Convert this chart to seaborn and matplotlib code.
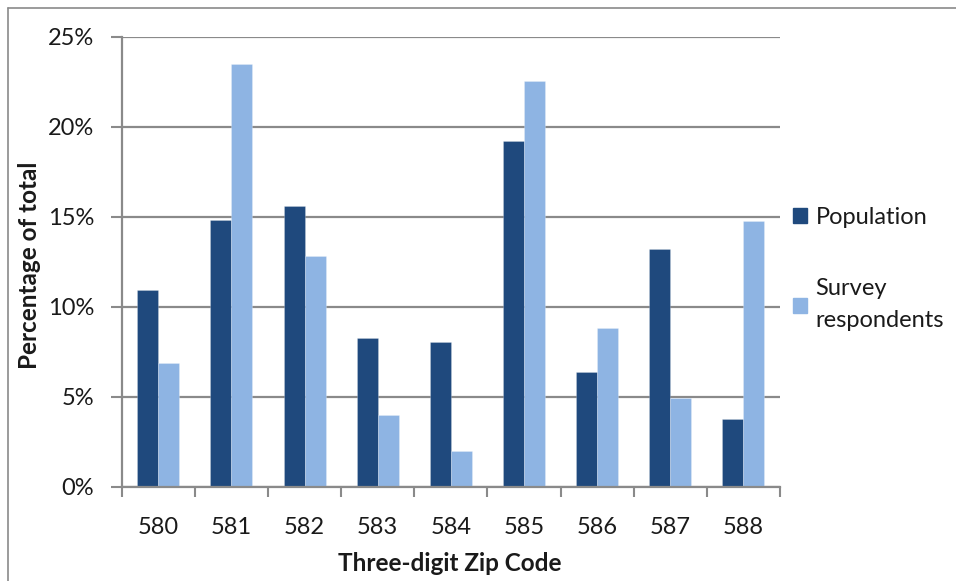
import matplotlib
matplotlib.use("Agg")
import matplotlib.pyplot as plt
import seaborn as sns
import pandas as pd
from matplotlib.lines import Line2D
from matplotlib.ticker import FixedLocator, FuncFormatter

zip_codes = ["580", "581", "582", "583", "584", "585", "586", "587", "588"]
population = [10.95, 14.8, 15.6, 8.28, 8.06, 19.2, 6.35, 13.2, 3.74]
survey = [6.9, 23.5, 12.8, 3.97, 2.0, 22.54, 8.83, 4.93, 14.74]
series_names = ["Population", "Survey\nrespondents"]
y_ticks = [0, 5, 10, 15, 20, 25]

df = pd.DataFrame({
    "zip": zip_codes * 2,
    "value": population + survey,
    "series": [series_names[0]] * len(zip_codes) + [series_names[1]] * len(zip_codes),
})

sns.set_theme(style="white")
plt.rcParams["font.family"] = ["Lato", "DejaVu Sans"]

fig = plt.figure(figsize=(9.56, 5.81), dpi=100)
ax = fig.add_axes([0.1273, 0.1623, 0.8159 - 0.1273, 0.9368 - 0.1623])

colors = ["#1F497D", "#8EB4E3"]
sns.barplot(data=df, x="zip", y="value", hue="series", order=zip_codes,
            hue_order=series_names, palette=colors, width=0.575, gap=0,
            ax=ax, legend=False, saturation=1, linewidth=0.6, edgecolor="#ffffff40")

ax.set_xlim(-0.5, len(zip_codes) - 0.5)
ax.set_ylim(0, 25)
ax.set_axisbelow(True)
ax.yaxis.set_major_locator(FixedLocator(y_ticks))
ax.yaxis.set_major_formatter(FuncFormatter(lambda v, p: f"{int(v)}%"))
ax.grid(axis="y", color="#8a8a8a", linewidth=1.6)
ax.grid(axis="x", visible=False)

for s in ["top", "right"]:
    ax.spines[s].set_visible(False)
for s in ["left", "bottom"]:
    ax.spines[s].set_color("#8a8a8a")
    ax.spines[s].set_linewidth(1.6)

ax.set_xticks(range(len(zip_codes)))
ax.set_xticks([i - 0.5 for i in range(len(zip_codes) + 1)], minor=True)
ax.tick_params(axis="x", which="major", length=0, pad=22, labelsize=17, labelcolor="#1a1a1a")
ax.tick_params(axis="x", which="minor", length=7, width=1.5, color="#8a8a8a", direction="out")
ax.tick_params(axis="y", which="major", length=8, width=1.5, color="#8a8a8a", direction="out",
               pad=12, labelsize=17, labelcolor="#1a1a1a")
ax.tick_params(bottom=True, left=True, which="both")

ax.set_xlabel("Three-digit Zip Code", fontsize=17.5, fontweight="bold", color="#1a1a1a")
ax.set_ylabel("Percentage of total", fontsize=17.5, fontweight="bold", color="#1a1a1a")
ax.xaxis.set_label_coords((450 - 121.7) / 658.3, (486.7 - 563) / 450)
ax.xaxis.label.set_va("center")
ax.yaxis.set_label_coords((30 - 121.7) / 658.3, (486.7 - 265) / 450)
ax.yaxis.label.set_va("center")

handles = [plt.Rectangle((0, 0), 1, 1, color=c) for c in colors]
leg = fig.legend(handles, series_names, loc="center left",
                 bbox_to_anchor=(793 / 956, 1 - 269 / 581),
                 frameon=False, fontsize=17, handlelength=0.6, handleheight=0.6,
                 handletextpad=0.35, labelspacing=2.15, labelcolor="#1a1a1a",
                 borderpad=0, borderaxespad=0)
for t in leg.get_texts():
    t.set_linespacing(1.66)

fig.add_artist(Line2D([8 / 956, 1], [1 - 7.5 / 581, 1 - 7.5 / 581], color="#8a8a8a", lw=1.2,
                      transform=fig.transFigure))
fig.add_artist(Line2D([8 / 956, 8 / 956], [0, 1 - 7.5 / 581], color="#8a8a8a", lw=1.2,
                      transform=fig.transFigure))

fig.savefig("out.png", dpi=100, facecolor="white")
